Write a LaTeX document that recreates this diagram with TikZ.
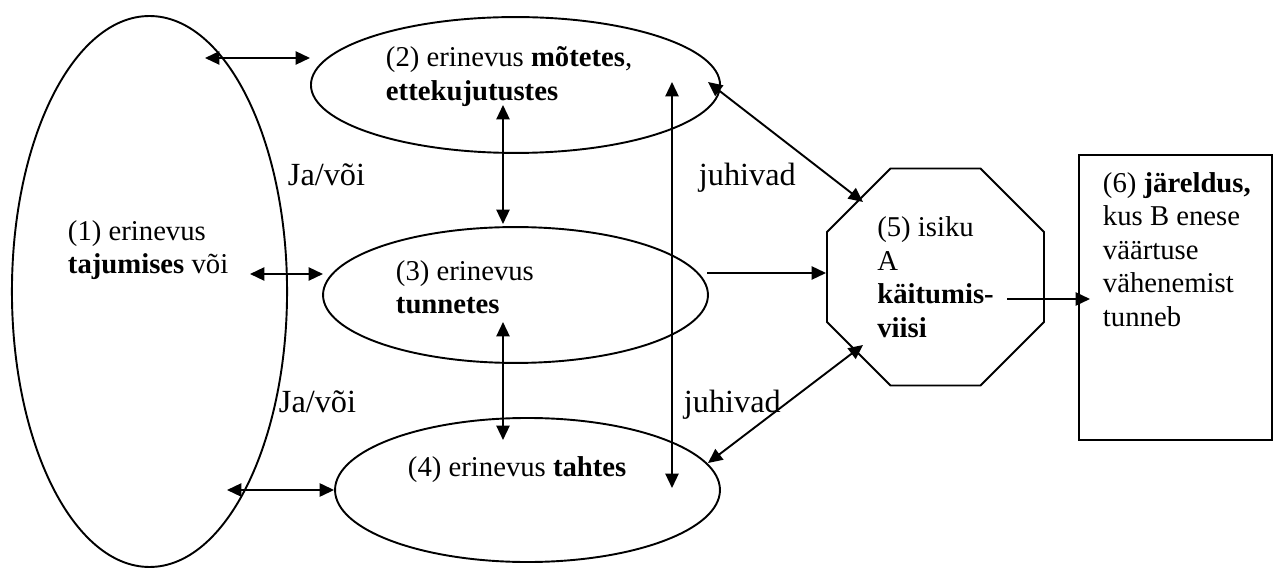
\documentclass[tikz,border=0pt]{standalone}
\usepackage{fontspec}
\setmainfont{Liberation Serif}
\usetikzlibrary{arrows.meta,shapes.geometric,positioning}
\newcommand{\dtfont}{\fontsize{12}{14}\selectfont}
\newcommand{\lbfont}{\fontsize{13.5}{16}\selectfont}

\begin{document}
\begin{tikzpicture}[x=0.418pt, y=-0.418pt, line width=0.8pt,
    ell/.style={draw, ellipse, inner sep=0pt},
    txt/.style={anchor=north west, inner sep=0pt, align=left, font=\dtfont,
                execute at begin node=\strut},
    lbl/.style={txt, font=\lbfont},
    twoway/.style={{Triangle[length=6pt,width=5.5pt]}-{Triangle[length=6pt,width=5.5pt]}},
    oneway/.style={-{Triangle[length=6pt,width=5.5pt]}},
   ]
    \useasboundingbox (0,0) rectangle (1279,569);
    % Ellipses ---------------------------------------------------------
    \node[ell, minimum width=115pt, minimum height=230.3pt] (e1) at (149.5,291.5) {};
    \node[ell, minimum width=171pt, minimum height=56.8pt] (e2) at (515.5,85) {};
    \node[ell, minimum width=160.9pt, minimum height=56.8pt] (e3) at (515.5,295) {};
    \node[ell, minimum width=160.9pt, minimum height=60.2pt] (e4) at (527.5,490) {};
    \node[txt] (t1) at (67,219.6) {(1) erinevus\\\textbf{tajumises} või};
    \node[txt] (t2) at (385,45.6) {(2) erinevus \textbf{mõtetes},\\\textbf{ettekujutustes}};
    \node[txt] (t3) at (395,259.6) {(3) erinevus\\\textbf{tunnetes}};
    \node[txt] (t4) at (407,451.6) {(4) erinevus \textbf{tahtes}};
    % Behaviour and result ---------------------------------------------
    \node[draw, regular polygon, regular polygon sides=8, minimum size=98.2pt,
          inner sep=0pt, align=left, font=\dtfont] (act) at (935.5,277)
        {(5) isiku\\A\\\textbf{käitumis-}\\\textbf{viisi}};
    \node[draw, minimum width=80.7pt, minimum height=119.1pt, inner sep=0pt]
        (res) at (1175.5,297.5) {};
    \node[txt] (t6) at (1102,171.6)
        {(6) \textbf{järeldus,}\\kus B enese\\väärtuse\\vähenemist\\tunneb};
    % Labels -----------------------------------------------------------
    \node[lbl] (jv1) at (287,158.2) {Ja/või};
    \node[lbl] (jv2) at (278,385.2) {Ja/või};
    \node[lbl] (jh1) at (698,158.2) {juhivad};
    \node[lbl] (jh2) at (683,385.2) {juhivad};
    % Arrow ends -------------------------------------------------------
    \coordinate (a1) at (205,58);   \coordinate (b1) at (310,58);
    \coordinate (a2) at (503,105);  \coordinate (b2) at (503,224);
    \coordinate (a4) at (250,274);  \coordinate (b4) at (323,274);
    \coordinate (a5) at (503,322);  \coordinate (b5) at (503,440);
    \coordinate (a6) at (227,490);
    \coordinate (a7) at (672,82);   \coordinate (b7) at (672,488);
    \coordinate (a8) at (708,82);   \coordinate (b8) at (863,202);
    \coordinate (a9) at (707,273);
    \coordinate (a10) at (708,463); \coordinate (b10) at (863,345);
    \coordinate (a11) at (1007,299); \coordinate (b11) at (1090,299);
    % Connectors -------------------------------------------------------
    \draw[twoway] (a1) -- (b1);
    \draw[twoway] (a2) -- (b2);
    \draw[twoway] (a4) -- (b4);
    \draw[twoway] (a5) -- (b5);
    \draw[twoway] (a6) -- (e4.west);
    \draw[twoway] (a7) -- (b7);
    \draw[twoway] (a8) -- (b8);
    \draw[oneway] (a9) -- (a9 -| act.west);
    \draw[twoway] (a10) -- (b10);
    \draw[oneway] (a11) -- (b11);
\end{tikzpicture}
\end{document}
